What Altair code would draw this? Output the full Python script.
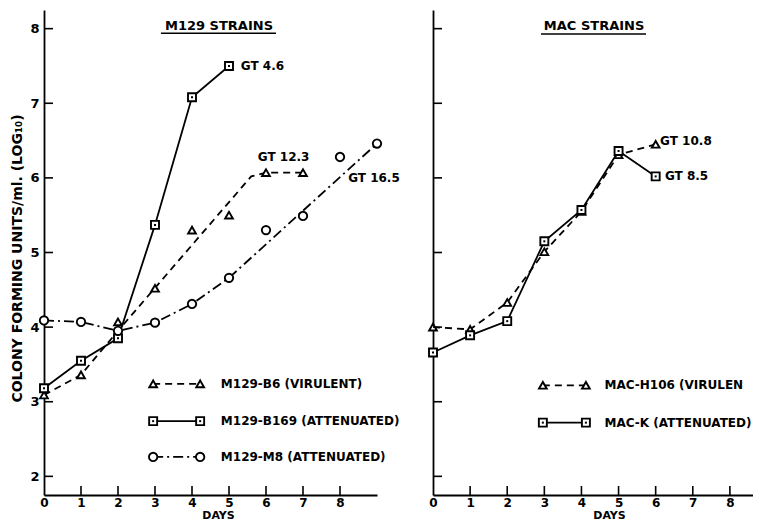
import altair as alt
import pandas as pd

FONT = "DejaVu Sans"

# ---------------- M129 strains (left panel) ----------------
b6_days = [0, 1, 2, 3, 4, 5, 6, 7]
b6_vals = [3.09, 3.36, 4.07, 4.52, 5.30, 5.50, 6.07, 6.07]
b6_fit_days = [0, 1, 2, 5.6, 6, 7]
b6_fit_vals = [3.09, 3.36, 3.95, 6.02, 6.07, 6.07]

b169_days = [0, 1, 2, 3, 4, 5]
b169_vals = [3.18, 3.55, 3.85, 5.37, 7.08, 7.50]

m8_days = [0, 1, 2, 3, 4, 5, 6, 7, 8, 9]
m8_vals = [4.09, 4.07, 3.95, 4.06, 4.31, 4.66, 5.30, 5.49, 6.28, 6.46]
m8_fit_days = [0, 1, 2, 3, 4, 5, 9]
m8_fit_vals = [4.09, 4.07, 3.95, 4.06, 4.31, 4.66, 6.46]

# ---------------- MAC strains (right panel) ----------------
mac_days = [0, 1, 2, 3, 4, 5, 6]
h106_vals = [4.00, 3.97, 4.33, 5.01, 5.55, 6.31, 6.45]
mack_vals = [3.66, 3.89, 4.08, 5.15, 5.57, 6.36, 6.02]

# generation-time labels
left_gt_text = ["GT 4.6", "GT 12.3", "GT 16.5"]
left_gt_x = [5.32, 5.78, 8.22]
left_gt_y = [7.50, 6.28, 6.00]
right_gt_text = ["GT 10.8", "GT 8.5"]
right_gt_x = [6.12, 6.25]
right_gt_y = [6.50, 6.03]

# legend entries
left_legend_names = ["M129-B6 (VIRULENT)", "M129-B169 (ATTENUATED)", "M129-M8 (ATTENUATED)"]
left_legend_y = [3.24, 2.74, 2.26]
left_legend_x = [2.95, 4.22]
left_legend_text_x = 4.78
right_legend_names = ["MAC-H106 (VIRULENT)", "MAC-K (ATTENUATED)"]
right_legend_y = [3.22, 2.72]
right_legend_x = [2.96, 4.12]
right_legend_text_x = 4.62

# panel titles (underlined)
panel_titles = ["M129 STRAINS", "MAC STRAINS"]
title_x = [4.73, 4.34]
title_y = [8.04, 8.04]
underline_x = [[3.16, 6.27], [2.91, 5.74]]
underline_y = [7.94, 7.93]

x_ticks = [0, 1, 2, 3, 4, 5, 6, 7, 8]
y_ticks = [2, 3, 4, 5, 6, 7, 8]
y_title = "COLONY FORMING UNITS/ml. (LOG\u2081\u2080)"

W_L, W_R, H = 333, 334, 485
ys = alt.Scale(domain=[1.75, 8.25], nice=False, zero=False)

DASH = [7, 5]
DASHDOT = [10, 4, 2, 4]
LW = 1.8


def df(days, vals):
    return pd.DataFrame({"day": days, "val": vals})


def make_panel(xs, width, x_axis, y_axis, series, gt, legend, title_idx,
               legend_size=12, legend_limit=None):
    def X(field="day"):
        return alt.X(f"{field}:Q", scale=xs, axis=x_axis)

    def Y(field="val"):
        return alt.Y(f"{field}:Q", scale=ys, axis=y_axis)

    layers = []
    # fitted lines
    for s in series:
        props = dict(color="black", strokeWidth=LW)
        if s["dash"]:
            props["strokeDash"] = s["dash"]
        layers.append(alt.Chart(df(s["fit_days"], s["fit_vals"])).mark_line(**props)
                      .encode(x=X(), y=Y()))
    # legend lines
    names, ly, lx, tx = legend
    for s, yy in zip(series, ly):
        props = dict(color="black", strokeWidth=LW)
        if s["dash"]:
            props["strokeDash"] = s["dash"]
        layers.append(alt.Chart(df(lx, [yy, yy])).mark_line(**props).encode(x=X(), y=Y()))
    # markers
    for s, yy in zip(series, ly):
        pts = pd.concat([df(s["days"], s["vals"]), df(lx, [yy, yy])])
        layers.append(alt.Chart(pts).mark_point(shape=s["shape"], size=s["size"], filled=False,
                                                fill="white", fillOpacity=1, color="black",
                                                strokeWidth=1.9, opacity=1)
                      .encode(x=X(), y=Y()))
        if s["shape"] == "square":
            layers.append(alt.Chart(pts).mark_point(shape="square", size=4, filled=True,
                                                    color="black", opacity=1)
                          .encode(x=X(), y=Y()))
    # legend text
    tprops = dict(align="left", baseline="middle", font=FONT, fontSize=legend_size,
                  fontWeight="bold", color="black")
    if legend_limit:
        tprops["limit"] = legend_limit
        tprops["ellipsis"] = " "
    ldf = pd.DataFrame({"day": [tx] * len(names), "val": ly, "label": names})
    layers.append(alt.Chart(ldf).mark_text(**tprops).encode(x=X(), y=Y(), text="label:N"))
    # GT labels
    gtext, gx, gy = gt
    gdf = pd.DataFrame({"day": gx, "val": gy, "label": gtext})
    layers.append(alt.Chart(gdf).mark_text(align="left", baseline="middle", font=FONT,
                                           fontSize=12, fontWeight="bold", color="black")
                  .encode(x=X(), y=Y(), text="label:N"))
    # panel title + underline
    tdf = pd.DataFrame({"day": [title_x[title_idx]], "val": [title_y[title_idx]],
                        "label": [panel_titles[title_idx]]})
    layers.append(alt.Chart(tdf).mark_text(align="center", baseline="middle", font=FONT,
                                           fontSize=13, fontWeight="bold", color="black")
                  .encode(x=X(), y=Y(), text="label:N"))
    udf = pd.DataFrame({"day": [underline_x[title_idx][0]], "day2": [underline_x[title_idx][1]],
                        "val": [underline_y[title_idx]]})
    layers.append(alt.Chart(udf).mark_rule(color="black", strokeWidth=1.5)
                  .encode(x=X(), x2="day2:Q", y=Y()))
    # inward ticks
    layers.append(alt.Chart(pd.DataFrame({"day": x_ticks[1:]})).mark_rule(color="black", strokeWidth=1.6)
                  .encode(x=X(), y=alt.value(H), y2=alt.value(H - 9)))
    layers.append(alt.Chart(pd.DataFrame({"val": y_ticks})).mark_rule(color="black", strokeWidth=1.6)
                  .encode(y=Y(), x=alt.value(0), x2=alt.value(9)))
    return alt.layer(*layers).properties(width=width, height=H)


axis_common = dict(grid=False, ticks=False, domain=True, domainColor="black", domainWidth=1.8,
                   labelFont=FONT, labelFontWeight="bold", labelColor="black",
                   titleFont=FONT, titleFontWeight="bold", titleColor="black",
                   labelOverlap=False, labelFlush=False)

x_axis_left = alt.Axis(values=x_ticks, labelPadding=2.5, labelFontSize=12, title="DAYS",
                       titleFontSize=11, titleBaseline="top", titleY=14.5, titleX=174, **axis_common)
x_axis_right = alt.Axis(values=x_ticks, labelPadding=2.5, labelFontSize=12, title="DAYS",
                        titleFontSize=11, titleBaseline="top", titleY=14.5, titleX=176, **axis_common)
y_axis_left = alt.Axis(values=y_ticks, labelPadding=5, labelFontSize=13, title=y_title,
                       titleFontSize=14, titlePadding=5, titleY=248, **axis_common)
y_axis_right = alt.Axis(values=y_ticks, labels=False, title="", **axis_common)

left_series = [
    dict(days=b6_days, vals=b6_vals, fit_days=b6_fit_days, fit_vals=b6_fit_vals,
         dash=DASH, shape="triangle-up", size=60),
    dict(days=b169_days, vals=b169_vals, fit_days=b169_days, fit_vals=b169_vals,
         dash=None, shape="square", size=64),
    dict(days=m8_days, vals=m8_vals, fit_days=m8_fit_days, fit_vals=m8_fit_vals,
         dash=DASHDOT, shape="circle", size=70),
]
right_series = [
    dict(days=mac_days, vals=h106_vals, fit_days=mac_days, fit_vals=h106_vals,
         dash=DASH, shape="triangle-up", size=60),
    dict(days=mac_days, vals=mack_vals, fit_days=mac_days, fit_vals=mack_vals,
         dash=None, shape="square", size=64),
]

left = make_panel(alt.Scale(domain=[0, 9], nice=False, zero=False), W_L, x_axis_left, y_axis_left,
                  left_series, (left_gt_text, left_gt_x, left_gt_y),
                  (left_legend_names, left_legend_y, left_legend_x, left_legend_text_x), 0)
right = make_panel(alt.Scale(domain=[0, 9], nice=False, zero=False), W_R, x_axis_right, y_axis_right,
                   right_series, (right_gt_text, right_gt_x, right_gt_y),
                   (right_legend_names, right_legend_y, right_legend_x, right_legend_text_x), 1,
                   legend_size=12, legend_limit=150)

chart = alt.hconcat(left, right, spacing=56, bounds="flush").properties(
    padding={"left": 2, "top": 2, "right": -14, "bottom": -1.5},
    background="white",
).configure_view(stroke=None)

chart.save("out.html", embed_options={"renderer": "svg", "actions": False})
